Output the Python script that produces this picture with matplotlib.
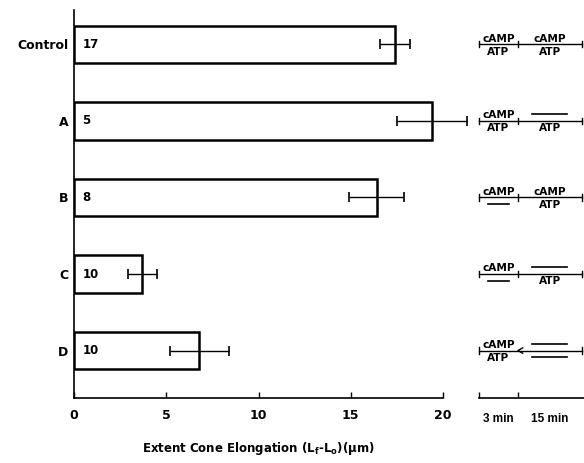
import matplotlib
matplotlib.use("Agg")
import matplotlib.pyplot as plt
import numpy as np

plt.rcParams['font.family'] = ['DejaVu Sans']
plt.rcParams['font.weight'] = 'bold'
plt.rcParams['axes.labelweight'] = 'bold'
plt.rcParams['mathtext.default'] = 'regular'

# ---- data ----
groups = ["Control", "A", "B", "C", "D"]
means = [17.4, 19.4, 16.4, 3.7, 6.8]
errs = [0.8, 1.9, 1.5, 0.8, 1.6]
ns = [17, 5, 8, 10, 10]
xticks = [0, 5, 10, 15, 20]
# schematic treatment labels (None = dash, i.e. absent)
seg1_top = ["cAMP", "cAMP", "cAMP", "cAMP", "cAMP"]
seg1_bot = ["ATP", "ATP", None, None, "ATP"]
seg2_top = ["cAMP", None, "cAMP", None, None]
seg2_bot = ["ATP", "ATP", "ATP", "ATP", None]
divider_marks = ["|", "|", "|", "|", "<"]
time_labels = ["3 min", "15 min"]

W, H = 584, 463
fig = plt.figure(figsize=(W / 100, H / 100), dpi=100)

ypos = np.arange(len(groups))[::-1]  # Control on top
ylim = (-0.62, 4.45)

# ---- main bar chart ----
left, right, top, bottom = 74, 443, 10, 398
ax = fig.add_axes([left / W, 1 - bottom / H, (right - left) / W, (bottom - top) / H])
ax.barh(ypos, means, height=0.49, color='white', edgecolor='black', linewidth=1.8, zorder=2)
eb = ax.errorbar(means, ypos, xerr=errs, fmt='none', ecolor='black', elinewidth=1.0,
                 capsize=3.5, capthick=1.2, zorder=3)
for art in eb.lines[1] + eb.lines[2]:
    art.set_clip_on(False)
for y, n in zip(ypos, ns):
    ax.text(0.45, y, str(n), ha='left', va='center', fontsize=8.5)

ax.set_xlim(0, 20)
ax.set_ylim(*ylim)
ax.set_xticks(xticks)
ax.set_xticklabels([str(t) for t in xticks], fontsize=9)
ax.set_yticks(ypos)
ax.set_yticklabels(groups, fontsize=9)
ax.tick_params(axis='y', length=0, pad=4)
ax.tick_params(axis='x', direction='in', length=4, width=1, pad=8)
for s in ['top', 'right']:
    ax.spines[s].set_visible(False)
for s in ['left', 'bottom']:
    ax.spines[s].set_linewidth(1.2)
ax.set_xlabel("Extent Cone Elongation (L$_{\\mathbf{f}}$-L$_{\\mathbf{o}}$)(\u03bcm)",
              fontsize=8.5, fontweight='bold', labelpad=13)

# ---- schematic panel ----
sl, sr = 470, 584
ax2 = fig.add_axes([sl / W, 1 - bottom / H, (sr - sl) / W, (bottom - top) / H])
px = 39.0  # pixels per schematic unit
x0 = 479
ax2.set_xlim((sl - x0) / px, (sr - x0) / px)
ax2.set_ylim(*ylim)
seg_edges = [0.0, 1.0, 2.63]
fs_s = 7.6
for i, y in enumerate(ypos):
    ax2.plot([seg_edges[0], seg_edges[2]], [y, y], color='black', lw=1.0)
    for j, xe in enumerate(seg_edges):
        if j == 1 and divider_marks[i] == "<":
            ax2.plot([xe + 0.12, xe, xe + 0.12], [y + 0.035, y, y - 0.035], color='black', lw=1.0)
        else:
            ax2.plot([xe, xe], [y - 0.04, y + 0.04], color='black', lw=1.0)
    mids = [(seg_edges[0] + seg_edges[1]) / 2, (seg_edges[1] + seg_edges[2]) / 2]
    dash_half = [0.28, 0.45]
    for k, (tl, bl) in enumerate([(seg1_top[i], seg1_bot[i]), (seg2_top[i], seg2_bot[i])]):
        m = mids[k]
        if tl is not None:
            ax2.annotate(tl, (m, y), xytext=(0, 0.5), textcoords='offset points',
                         ha='center', va='bottom', fontsize=fs_s)
        else:
            ax2.plot([m - dash_half[k], m + dash_half[k]], [y + 0.09, y + 0.09], color='black', lw=1.2)
        if bl is not None:
            ax2.annotate(bl, (m, y), xytext=(0, -1.5), textcoords='offset points',
                         ha='center', va='top', fontsize=fs_s)
        else:
            ax2.plot([m - dash_half[k], m + dash_half[k]], [y - 0.09, y - 0.09], color='black', lw=1.2)

for s in ['top', 'right', 'left']:
    ax2.spines[s].set_visible(False)
ax2.spines['bottom'].set_bounds(0, (sr - x0) / px)
ax2.spines['bottom'].set_linewidth(1.2)
ax2.set_yticks([])
ax2.set_xticks([0, 1])
ax2.set_xticklabels([])
ax2.tick_params(axis='x', which='major', direction='in', length=4, width=1)
ax2.set_xticks([0.5, 1.8], minor=True)
ax2.set_xticklabels(time_labels, minor=True, fontsize=8.5, fontfamily='Liberation Sans', fontweight='bold')
ax2.tick_params(axis='x', which='minor', length=0, pad=11)
ax2.patch.set_visible(False)

fig.savefig("out.png", dpi=100)
